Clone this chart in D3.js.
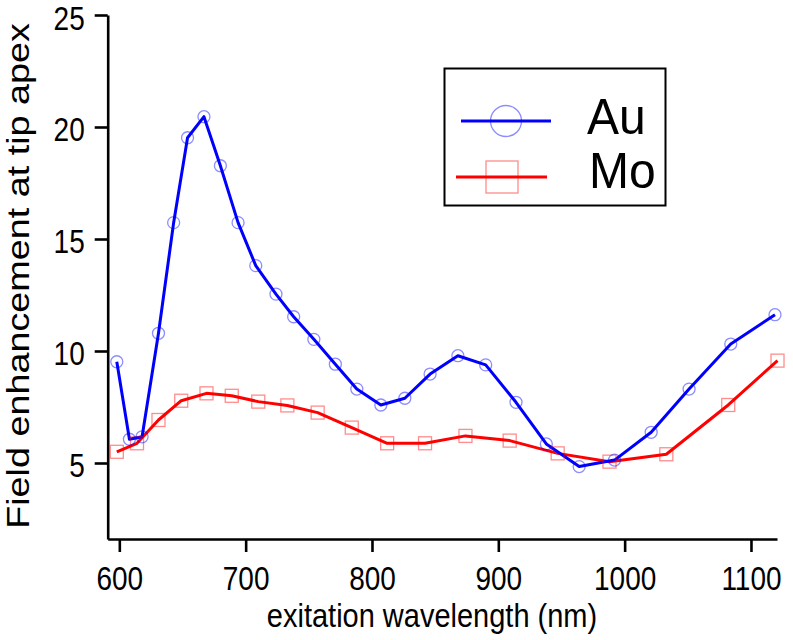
<!DOCTYPE html>
<html>
<head>
<meta charset="utf-8">
<script src="https://cdn.jsdelivr.net/npm/d3@7"></script>
<style>
  html, body { margin: 0; padding: 0; background: #fff; }
  svg { display: block; font-family: "Liberation Sans", Arial, sans-serif; }
</style>
</head>
<body>
<svg id="chart" width="793" height="640"></svg>
<script>
// ---- data ----
const auWavelength = [598, 608, 618, 631, 643, 654, 667, 680, 694, 708, 724, 738, 754, 771, 788, 807, 826, 846, 868, 890, 914, 938, 964, 992, 1021, 1051, 1084, 1119];
const auValues     = [9.52, 6.06, 6.17, 10.79, 15.73, 19.52, 20.46, 18.27, 15.73, 13.81, 12.54, 11.53, 10.52, 9.41, 8.30, 7.59, 7.89, 8.97, 9.79, 9.38, 7.71, 5.85, 4.84, 5.13, 6.37, 8.30, 10.31, 11.62];
const moWavelength = [598, 614, 631, 649, 669, 689, 710, 733, 757, 784, 812, 842, 874, 909, 947, 988, 1033, 1082, 1121];
const moValues     = [5.50, 5.88, 6.92, 7.78, 8.11, 8.00, 7.74, 7.57, 7.25, 6.58, 5.88, 5.88, 6.21, 6.00, 5.43, 5.06, 5.39, 7.59, 9.57];
const xTicks = [600, 700, 800, 900, 1000, 1100];
const yTicks = [5, 10, 15, 20, 25];
const seriesNames = ["Au", "Mo"];
const xTitle = "exitation wavelength (nm)";
const yTitle = "Field enhancement at tip apex";

(function () {
// ---- layout ----
const svg = d3.select("#chart");
const mLeft = 107.7, mRight = 777, mTop = 15, mBottom = 539;
const x = d3.scaleLinear().domain([590.8, 1120.6]).range([mLeft, mRight]);
const y = d3.scaleLinear().domain([1.607, 25]).range([mBottom, mTop]);

const axisColor = "#000";
const stretch = 1.2; // reference text is taller than it is wide

// axes
const xAxis = svg.append("g").attr("transform", `translate(0,${mBottom})`)
  .call(d3.axisBottom(x).tickValues(xTicks).tickSize(13).tickSizeOuter(0).tickFormat(d3.format("d")));
const yAxis = svg.append("g").attr("transform", `translate(${mLeft},0)`)
  .call(d3.axisLeft(y).tickValues(yTicks).tickSize(13).tickSizeOuter(0).tickFormat(d3.format("d")));

[xAxis, yAxis].forEach(g => {
  g.select(".domain").attr("stroke", axisColor).attr("stroke-width", 2.6);
  g.selectAll(".tick line").attr("stroke", axisColor).attr("stroke-width", 2.6);
  g.selectAll(".tick text").attr("fill", "#000").style("font-size", "28px")
    .style("font-family", "'Liberation Sans', Arial, sans-serif")
    .attr("x", null).attr("y", null).attr("dy", null);
});
xAxis.selectAll(".tick text").attr("text-anchor", "middle")
  .attr("transform", `translate(0,51) scale(1,${stretch})`);
yAxis.selectAll(".tick text").attr("text-anchor", "end")
  .attr("transform", `translate(-23,14) scale(1,${stretch})`);

// axis titles
svg.append("text").attr("text-anchor", "middle")
  .attr("transform", `translate(432,627) scale(1,1.17)`)
  .style("font-size", "29px").attr("fill", "#000").text(xTitle);
svg.append("text").attr("text-anchor", "middle")
  .attr("transform", "translate(29,276) rotate(-90) scale(1.218,1)")
  .style("font-size", "31px").attr("fill", "#000").text(yTitle);

// lines
const line = d3.line().x(d => x(d[0])).y(d => y(d[1]));
const auData = auWavelength.map((w, i) => [w, auValues[i]]);
const moData = moWavelength.map((w, i) => [w, moValues[i]]);

svg.append("path").datum(moData).attr("d", line).attr("fill", "none")
  .attr("stroke", "#ff0000").attr("stroke-width", 3).attr("stroke-linejoin", "round");
svg.append("path").datum(auData).attr("d", line).attr("fill", "none")
  .attr("stroke", "#0000ff").attr("stroke-width", 3).attr("stroke-linejoin", "round");

// markers
svg.append("g").selectAll("rect").data(moData).join("rect")
  .attr("x", d => x(d[0]) - 6.5).attr("y", d => y(d[1]) - 6.5)
  .attr("width", 13).attr("height", 13)
  .attr("fill", "none").attr("stroke", "rgba(255,0,0,0.45)").attr("stroke-width", 1.3);
svg.append("g").selectAll("circle").data(auData).join("circle")
  .attr("cx", d => x(d[0])).attr("cy", d => y(d[1])).attr("r", 6)
  .attr("fill", "none").attr("stroke", "rgba(0,0,255,0.45)").attr("stroke-width", 1.3);

// legend
const lg = svg.append("g");
lg.append("rect").attr("x", 444.5).attr("y", 68.5).attr("width", 221).attr("height", 137)
  .attr("fill", "#fff").attr("stroke", "#000").attr("stroke-width", 2);
lg.append("line").attr("x1", 461).attr("x2", 551).attr("y1", 121).attr("y2", 121)
  .attr("stroke", "#0000ff").attr("stroke-width", 3);
lg.append("circle").attr("cx", 506).attr("cy", 121).attr("r", 15.5)
  .attr("fill", "none").attr("stroke", "rgba(0,0,255,0.45)").attr("stroke-width", 1.3);
lg.append("line").attr("x1", 456).attr("x2", 547).attr("y1", 177).attr("y2", 177)
  .attr("stroke", "#ff0000").attr("stroke-width", 3);
lg.append("rect").attr("x", 486).attr("y", 161).attr("width", 32).attr("height", 32)
  .attr("fill", "none").attr("stroke", "rgba(255,0,0,0.45)").attr("stroke-width", 1.3);
lg.append("text").attr("transform", "translate(587,134) scale(1,1.06)")
  .style("font-size", "48px").attr("fill", "#000").text(seriesNames[0]);
lg.append("text").attr("transform", "translate(589,188) scale(1,1.06)")
  .style("font-size", "48px").attr("fill", "#000").text(seriesNames[1]);
})();
</script>
</body>
</html>
